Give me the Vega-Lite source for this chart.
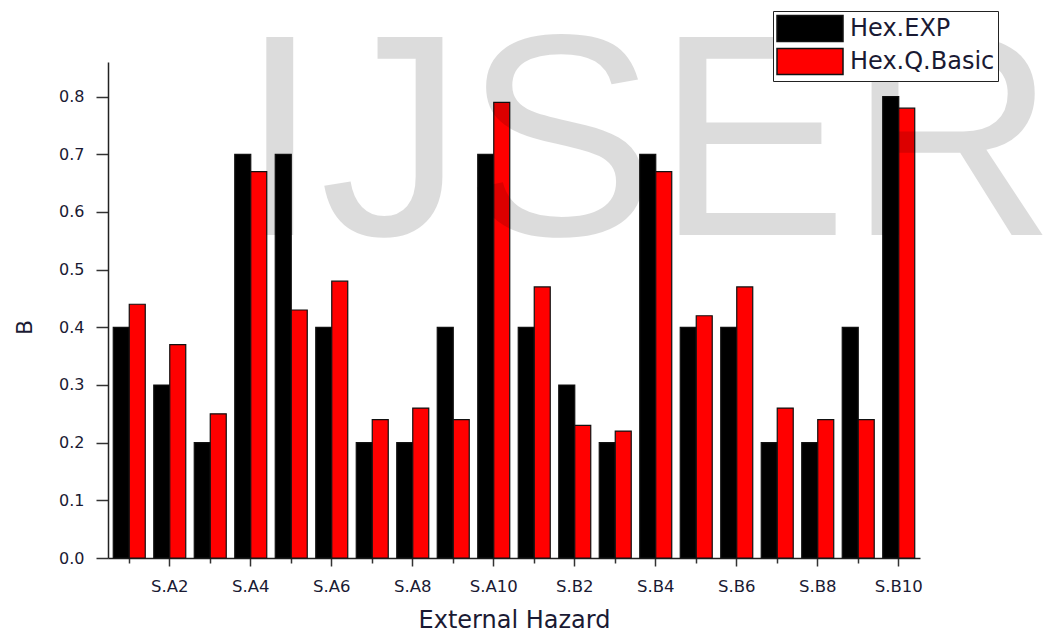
{
  "$schema": "https://vega.github.io/schema/vega-lite/v6.json",
  "width": 812,
  "height": 496,
  "autosize": {"type": "none"},
  "padding": {"left": 108, "top": 62, "right": 125, "bottom": 78},
  "background": "white",
  "config": {"view": {"stroke": null}, "font": "Liberation Sans"},
  "datasets": {
    "bars": [
      {"hazard": "S.A1", "series": "Hex.EXP", "B": 0.40}, {"hazard": "S.A1", "series": "Hex.Q.Basic", "B": 0.44},
      {"hazard": "S.A2", "series": "Hex.EXP", "B": 0.30}, {"hazard": "S.A2", "series": "Hex.Q.Basic", "B": 0.37},
      {"hazard": "S.A3", "series": "Hex.EXP", "B": 0.20}, {"hazard": "S.A3", "series": "Hex.Q.Basic", "B": 0.25},
      {"hazard": "S.A4", "series": "Hex.EXP", "B": 0.70}, {"hazard": "S.A4", "series": "Hex.Q.Basic", "B": 0.67},
      {"hazard": "S.A5", "series": "Hex.EXP", "B": 0.70}, {"hazard": "S.A5", "series": "Hex.Q.Basic", "B": 0.43},
      {"hazard": "S.A6", "series": "Hex.EXP", "B": 0.40}, {"hazard": "S.A6", "series": "Hex.Q.Basic", "B": 0.48},
      {"hazard": "S.A7", "series": "Hex.EXP", "B": 0.20}, {"hazard": "S.A7", "series": "Hex.Q.Basic", "B": 0.24},
      {"hazard": "S.A8", "series": "Hex.EXP", "B": 0.20}, {"hazard": "S.A8", "series": "Hex.Q.Basic", "B": 0.26},
      {"hazard": "S.A9", "series": "Hex.EXP", "B": 0.40}, {"hazard": "S.A9", "series": "Hex.Q.Basic", "B": 0.24},
      {"hazard": "S.A10", "series": "Hex.EXP", "B": 0.70}, {"hazard": "S.A10", "series": "Hex.Q.Basic", "B": 0.79},
      {"hazard": "S.B1", "series": "Hex.EXP", "B": 0.40}, {"hazard": "S.B1", "series": "Hex.Q.Basic", "B": 0.47},
      {"hazard": "S.B2", "series": "Hex.EXP", "B": 0.30}, {"hazard": "S.B2", "series": "Hex.Q.Basic", "B": 0.23},
      {"hazard": "S.B3", "series": "Hex.EXP", "B": 0.20}, {"hazard": "S.B3", "series": "Hex.Q.Basic", "B": 0.22},
      {"hazard": "S.B4", "series": "Hex.EXP", "B": 0.70}, {"hazard": "S.B4", "series": "Hex.Q.Basic", "B": 0.67},
      {"hazard": "S.B5", "series": "Hex.EXP", "B": 0.40}, {"hazard": "S.B5", "series": "Hex.Q.Basic", "B": 0.42},
      {"hazard": "S.B6", "series": "Hex.EXP", "B": 0.40}, {"hazard": "S.B6", "series": "Hex.Q.Basic", "B": 0.47},
      {"hazard": "S.B7", "series": "Hex.EXP", "B": 0.20}, {"hazard": "S.B7", "series": "Hex.Q.Basic", "B": 0.26},
      {"hazard": "S.B8", "series": "Hex.EXP", "B": 0.20}, {"hazard": "S.B8", "series": "Hex.Q.Basic", "B": 0.24},
      {"hazard": "S.B9", "series": "Hex.EXP", "B": 0.40}, {"hazard": "S.B9", "series": "Hex.Q.Basic", "B": 0.24},
      {"hazard": "S.B10", "series": "Hex.EXP", "B": 0.80}, {"hazard": "S.B10", "series": "Hex.Q.Basic", "B": 0.78}
    ],
    "watermark": [{"text": "IJSER"}]
  },
  "layer": [
    {
      "data": {"name": "bars"},
      "mark": {"type": "bar", "stroke": "#111111", "strokeWidth": 1.2},
      "encoding": {
        "x": {
          "field": "hazard", "type": "nominal",
          "scale": {
            "domain": ["S.A1","S.A2","S.A3","S.A4","S.A5","S.A6","S.A7","S.A8","S.A9","S.A10","S.B1","S.B2","S.B3","S.B4","S.B5","S.B6","S.B7","S.B8","S.B9","S.B10"],
            "paddingInner": 0.21, "paddingOuter": 0.13
          },
          "axis": {
            "title": "External Hazard",
            "labelAngle": 0,
            "labelExpr": "parseInt(substring(datum.value, 3)) % 2 == 0 ? datum.value : ''",
            "tickSize": {"condition": {"test": "parseInt(substring(datum.value, 3)) % 2 == 0", "value": 8}, "value": 5},
            "tickColor": "#333333", "tickWidth": 1.5,
            "domainColor": "#222222", "domainWidth": 1.5,
            "labelFont": "DejaVu Sans", "labelFontSize": 16.5, "labelColor": "#1a1a33", "labelPadding": 12,
            "titleFont": "DejaVu Sans", "titleFontSize": 24, "titleFontWeight": "normal", "titleColor": "#1a1a33", "titlePadding": 14
          }
        },
        "xOffset": {"field": "series", "type": "nominal", "scale": {"domain": ["Hex.EXP", "Hex.Q.Basic"], "paddingInner": 0, "paddingOuter": 0}},
        "y": {
          "field": "B", "type": "quantitative",
          "scale": {"domain": [0, 0.86], "nice": false},
          "axis": {
            "title": "B",
            "titleY": 265,
            "values": [0, 0.05, 0.1, 0.15, 0.2, 0.25, 0.3, 0.35, 0.4, 0.45, 0.5, 0.55, 0.6, 0.65, 0.7, 0.75, 0.8, 0.85],
            "labelExpr": "round(datum.value * 20) % 2 == 0 ? format(datum.value, '.1f') : ''",
            "tickSize": {"condition": {"test": "round(datum.value * 20) % 2 == 0", "value": 12}, "value": 5},
            "tickColor": "#333333", "tickWidth": 1.5,
            "domainColor": "#222222", "domainWidth": 1.5,
            "grid": false,
            "labelFont": "DejaVu Sans", "labelFontSize": 16, "labelColor": "#1a1a33", "labelPadding": 12,
            "titleFont": "DejaVu Sans", "titleFontSize": 22, "titleFontWeight": "normal", "titleColor": "#1a1a33", "titlePadding": 22
          }
        },
        "color": {
          "field": "series", "type": "nominal",
          "scale": {"domain": ["Hex.EXP", "Hex.Q.Basic"], "range": ["#000000", "#ff0000"]},
          "legend": {
            "orient": "none", "legendX": 665, "legendY": -51,
            "title": null,
            "symbolType": "M-1,-0.96H3.89V0.96H-1Z", "symbolSize": 729,
            "symbolStrokeColor": "#111111", "symbolStrokeWidth": 1.5, "symbolOpacity": 1,
            "labelFont": "DejaVu Sans", "labelFontSize": 24, "labelColor": "#1a1a33", "labelOffset": 45,
            "strokeColor": "#222222", "fillColor": "white", "padding": 3, "rowPadding": 0
          }
        }
      }
    },
    {
      "data": {"name": "watermark"},
      "mark": {"type": "text", "font": "Liberation Sans", "fontSize": 288, "align": "left", "baseline": "alphabetic", "color": "#000000", "opacity": 0.135, "dx": 5},
      "encoding": {
        "x": {"datum": "S.A4", "type": "nominal", "bandPosition": 0},
        "y": {"datum": 0.56, "type": "quantitative"},
        "text": {"field": "text"}
      }
    }
  ]
}
